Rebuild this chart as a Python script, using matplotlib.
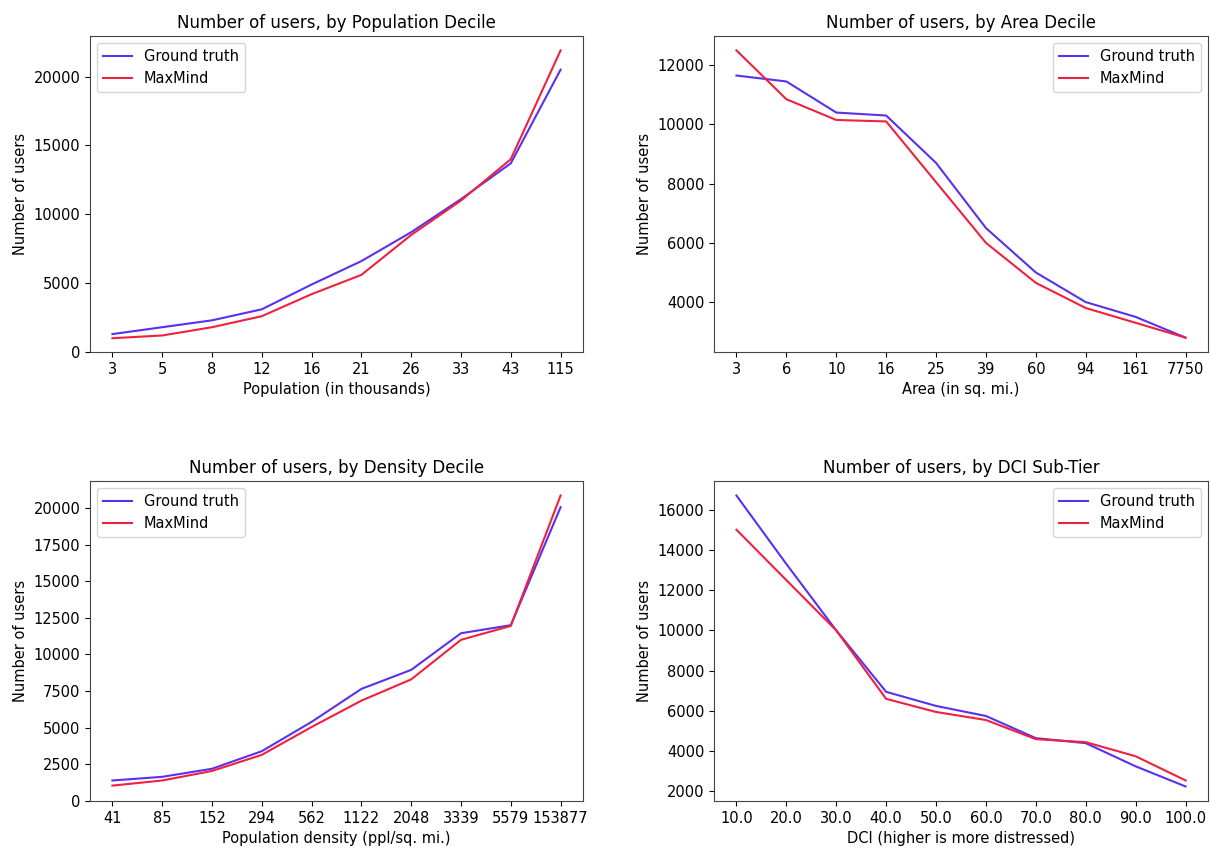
import matplotlib
matplotlib.use("Agg")
import matplotlib.pyplot as plt
import numpy as np

# ── DATA ──────────────────────────────────────────────────────────────────────
pop_labels = ["3", "5", "8", "12", "16", "21", "26", "33", "43", "115"]
pop_truth = [1300, 1800, 2300, 3100, 4900, 6600, 8700, 11100, 13700, 20500]
pop_maxmind = [1000, 1200, 1800, 2600, 4200, 5600, 8500, 11000, 14000, 21900]

area_labels = ["3", "6", "10", "16", "25", "39", "60", "94", "161", "7750"]
area_truth = [11650, 11450, 10400, 10300, 8700, 6500, 5000, 4000, 3500, 2800]
area_maxmind = [12500, 10850, 10150, 10100, 8050, 6000, 4650, 3800, 3300, 2800]

dens_labels = ["41", "85", "152", "294", "562", "1122", "2048", "3339", "5579", "153877"]
dens_truth = [1400, 1650, 2200, 3400, 5400, 7650, 8950, 11450, 12000, 20050]
dens_maxmind = [1050, 1400, 2050, 3150, 5050, 6850, 8300, 11000, 11950, 20850]

dci_labels = ["10.0", "20.0", "30.0", "40.0", "50.0", "60.0", "70.0", "80.0", "90.0", "100.0"]
dci_truth = [16700, 13300, 10000, 6950, 6250, 5750, 4650, 4400, 3250, 2250]
dci_maxmind = [15000, 12500, 10000, 6600, 5950, 5550, 4600, 4450, 3750, 2550]

BLUE = "#5a30ee"
RED = "#f0203f"

# title, xlabel, tick labels, truth, maxmind, legend loc, y starts at zero
panels = [
    ("Number of users, by Population Decile", "Population (in thousands)",
     pop_labels, pop_truth, pop_maxmind, "upper left", True),
    ("Number of users, by Area Decile", "Area (in sq. mi.)",
     area_labels, area_truth, area_maxmind, "upper right", False),
    ("Number of users, by Density Decile", "Population density (ppl/sq. mi.)",
     dens_labels, dens_truth, dens_maxmind, "upper left", True),
    ("Number of users, by DCI Sub-Tier", "DCI (higher is more distressed)",
     dci_labels, dci_truth, dci_maxmind, "upper right", False),
]

# axes rectangles in figure fractions (left, bottom, width, height)
W, H = 1210, 850
rects = [
    (90 / W, 1 - 352 / H, 493 / W, 316 / H),
    (714 / W, 1 - 352 / H, 494 / W, 316 / H),
    (90 / W, 1 - 801 / H, 493 / W, 320 / H),
    (714 / W, 1 - 801 / H, 494 / W, 320 / H),
]

plt.rcParams["font.size"] = 10.5
fig = plt.figure(figsize=(12.1, 8.5), dpi=100)

for (title, xlabel, labels, truth, maxmind, loc, zero), rect in zip(panels, rects):
    ax = fig.add_axes(rect)
    x = np.arange(len(labels))
    ax.plot(x, truth, color=BLUE, lw=1.5, label="Ground truth")
    ax.plot(x, maxmind, color=RED, lw=1.5, label="MaxMind")
    ax.set_xticks(x)
    ax.set_xticklabels(labels)
    if zero:
        ax.set_ylim(bottom=0)
    ax.set_title(title, fontsize=12)
    ax.set_xlabel(xlabel)
    ax.set_ylabel("Number of users")
    ax.legend(loc=loc, fontsize=10.5)
    for s in ax.spines.values():
        s.set_color("#444444")

fig.savefig("out.png", dpi=100)
